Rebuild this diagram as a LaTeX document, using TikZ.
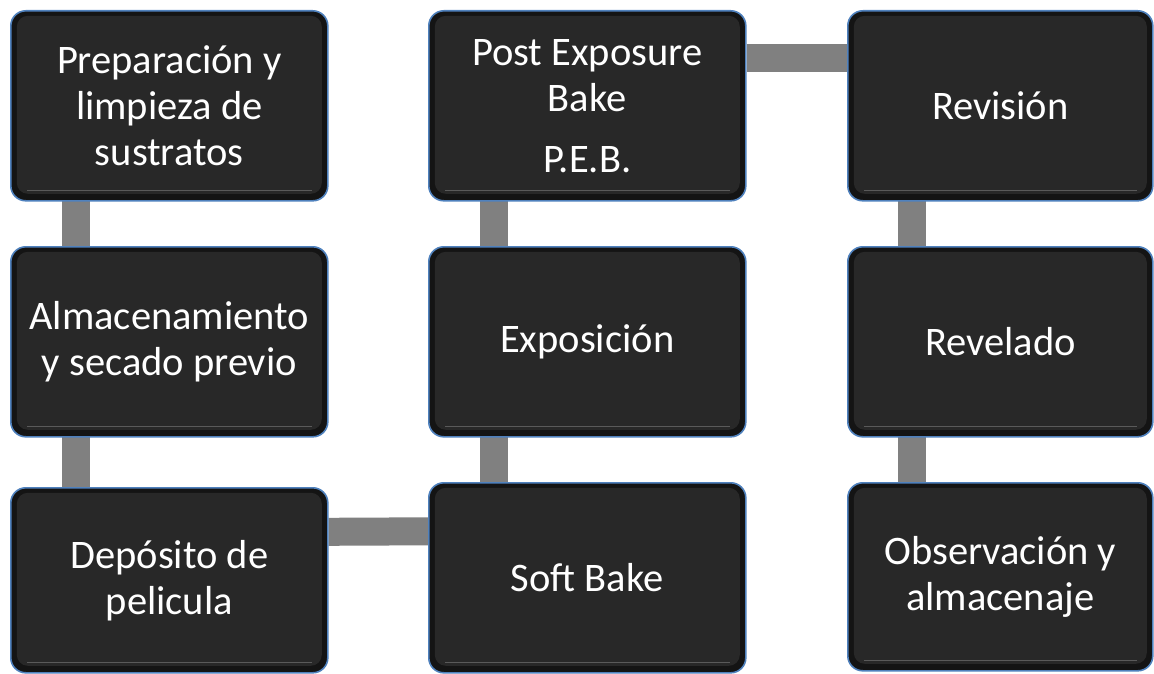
\documentclass[tikz,border=0pt]{standalone}
\usepackage{fontspec}
\setmainfont{Carlito}
\usetikzlibrary{backgrounds}
\definecolor{boxedge}{HTML}{4F81BD}
\definecolor{boxdark}{HTML}{141414}
\definecolor{boxface}{HTML}{282828}
\definecolor{boxglint}{HTML}{5A5A5A}
\definecolor{linkgray}{HTML}{808080}
\tikzset{
  stepbox/.style={
    draw=boxedge, line width=1.6pt, fill=boxdark,
    rounded corners=15pt, inner sep=0pt, anchor=north west,
    text=white, align=center,
    font=\fontsize{40.5}{46}\selectfont,
    path picture={
      \fill[boxface, rounded corners=11pt]
        ([shift={(6pt,7pt)}]path picture bounding box.south west)
        rectangle ([shift={(-6pt,-5pt)}]path picture bounding box.north east);
      \draw[boxglint, line width=1.2pt]
        ([shift={(16pt,10pt)}]path picture bounding box.south west)
        -- ([shift={(-16pt,10pt)}]path picture bounding box.south east);
    }
  },
  link/.style={draw=linkgray, line width=28pt}
}
\begin{document}
\begin{tikzpicture}[x=1pt,y=-1pt]
  \useasboundingbox (0,0) rectangle (1154,674);

  % first column
  \node[stepbox, minimum width=317pt, minimum height=190pt] (prep) at (10,10)
    {Preparación y\\limpieza de\\sustratos};
  \node[stepbox, minimum width=317pt, minimum height=190pt] (alma) at (10,246)
    {Almacenamiento\\y secado previo};
  \node[stepbox, minimum width=317pt, minimum height=185pt] (depo) at (10,487)
    {Depósito de\\pelicula};

  % second column
  \node[stepbox, minimum width=317pt, minimum height=190pt] (peb) at (428,10)
    {Post Exposure\\Bake\\[15pt]P.E.B.};
  \node[stepbox, minimum width=317pt, minimum height=190pt] (expo) at (428,246)
    {Exposición};
  \node[stepbox, minimum width=317pt, minimum height=190pt] (soft) at (428,482)
    {Soft Bake};

  % third column
  \node[stepbox, minimum width=305pt, minimum height=190pt] (revi) at (847,10)
    {Revisión};
  \node[stepbox, minimum width=305pt, minimum height=190pt] (reve) at (847,246)
    {Revelado};
  \node[stepbox, minimum width=305pt, minimum height=188pt] (obse) at (847,482)
    {Observación y\\almacenaje};

  % connecting bars behind the boxes
  \begin{scope}[on background layer]
    \draw[link] ([xshift=-93.5pt]prep.center) -- ([xshift=-93.5pt]prep.center |- alma.center);
    \draw[link] ([xshift=-93.5pt]alma.center) -- ([xshift=-93.5pt]alma.center |- depo.center);
    \draw[link] ([yshift=48.5pt]depo.east) -- ([yshift=46.5pt]soft.west);
    \draw[link] ([xshift=-93pt]soft.center) -- ([xshift=-93pt]soft.center |- expo.center);
    \draw[link] ([xshift=-93pt]expo.center) -- ([xshift=-93pt]expo.center |- peb.center);
    \draw[link] ([yshift=48pt]peb.east) -- ([yshift=48pt]revi.west);
    \draw[link] ([xshift=-88.5pt]revi.center) -- ([xshift=-88.5pt]revi.center |- reve.center);
    \draw[link] ([xshift=-88.5pt]reve.center) -- ([xshift=-88.5pt]reve.center |- obse.center);
  \end{scope}
\end{tikzpicture}
\end{document}
